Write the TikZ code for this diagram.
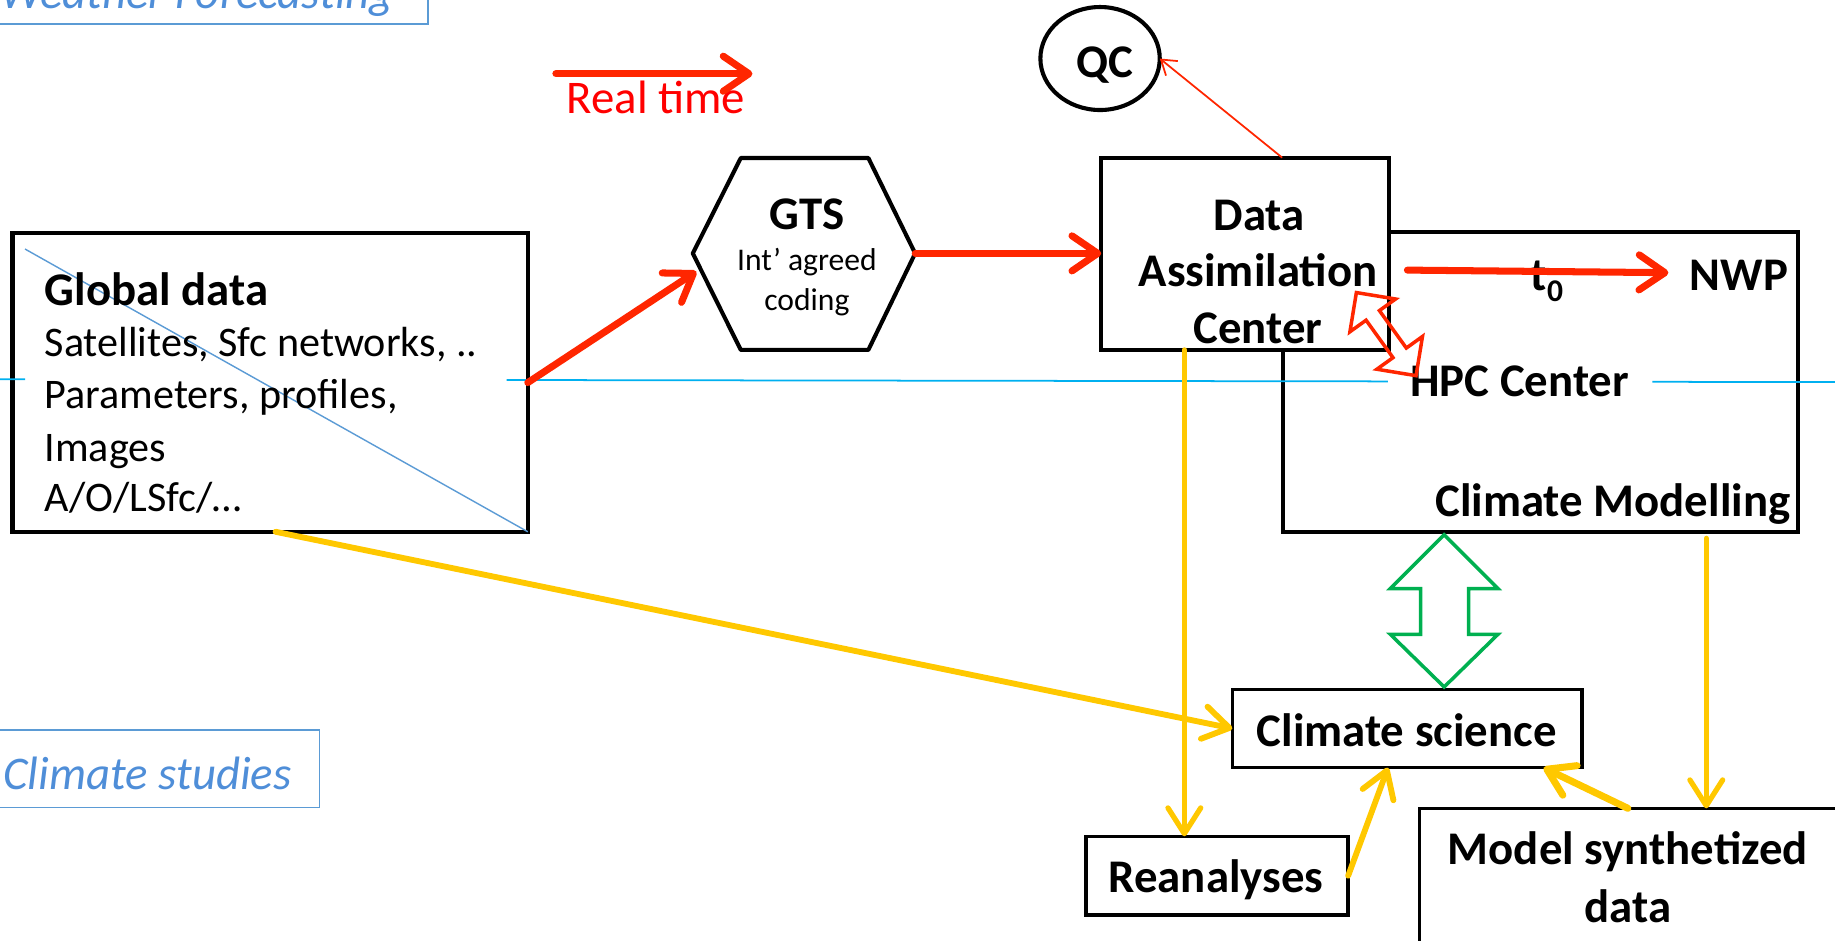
\documentclass[tikz,border=0pt]{standalone}
\usepackage{fontspec}
\setmainfont{Carlito}
\usetikzlibrary{arrows.meta,shapes.geometric}
\definecolor{rd}{HTML}{FF2600}
\definecolor{rtxt}{HTML}{FF0000}
\definecolor{yl}{HTML}{FFC800}
\definecolor{gr}{HTML}{00B050}
\definecolor{cy}{HTML}{00B0F0}
\definecolor{bl}{HTML}{5B9BD5}
\definecolor{bltxt}{HTML}{4F8ED8}
\begin{document}
\begin{tikzpicture}[x=1pt,y=-1pt,
  blk/.style={draw=black, line width=3.5pt, fill=white, inner sep=0pt, outer sep=0pt},
  big/.style={font=\fontsize{40}{48}\selectfont\bfseries, inner sep=0pt},
  body/.style={font=\fontsize{36}{44}\selectfont, inner sep=0pt, anchor=base west},
  small/.style={font=\fontsize{27}{32}\selectfont, inner sep=0pt, anchor=base},
  ital/.style={font=\fontsize{40}{48}\selectfont\itshape, text=bltxt, inner sep=0pt, anchor=base west},
  bluebox/.style={draw=bl, line width=1.5pt, inner sep=0pt, outer sep=0pt},
  redarr/.style={draw=rd, line width=6pt, line cap=round, -{Straight Barb[length=22pt,width=30pt,round]}},
  thinred/.style={draw=rd, line width=1.5pt, -{Straight Barb[length=12pt,width=16pt]}},
  yarr/.style={draw=yl, line width=5pt, line cap=round, -{Straight Barb[length=22pt,width=28pt,round]}},
  cyline/.style={draw=cy, line width=1.5pt},
  hollow/.style={line width=3pt, line join=miter}
]
\useasboundingbox (0,0) rectangle (1568,804);

% blue frames
\node[bluebox, anchor=south east, minimum width=420pt, minimum height=70pt] (wfbox) at (366,20.5) {};
\node[bluebox, anchor=north east, minimum width=300pt, minimum height=66pt] (csbox) at (273,624) {};
\node[ital] (wf) at (0,7) {Weather Forecasting};
\node[ital] (cst) at (2.8,674.5) {Climate studies};

% boxes
\node[blk, anchor=north west, minimum width=440.3pt, minimum height=255pt] (glob) at (10.7,199.4) {};
\node[blk, anchor=north west, minimum width=439.6pt, minimum height=255.8pt] (hpc) at (1096.4,198.6) {};
\node[blk, anchor=north west, minimum width=245.7pt, minimum height=164.3pt] (da) at (941,134.7) {};
\node[ellipse, draw, line width=3.5pt, fill=white, minimum width=102pt, minimum height=88pt, inner sep=0pt, outer sep=0pt] (qc) at (940,50) {};
\node[blk, line width=3pt, anchor=north west, minimum width=299pt, minimum height=67pt] (cs) at (1053,589) {};
\node[blk, line width=3pt, anchor=north west, minimum width=224pt, minimum height=67.4pt] (rea) at (928,714.6) {};
\node[blk, line width=3pt, anchor=north west, minimum width=420pt, minimum height=220pt] (msd) at (1213,690.7) {};

% GTS hexagon
\coordinate (gW) at (592,216.5);
\coordinate (gNW) at (633,135);
\coordinate (gNE) at (742,135);
\coordinate (gE) at (782,216.5);
\coordinate (gSE) at (742,299);
\coordinate (gSW) at (633,299);
\draw[line width=3.5pt, line join=round, fill=white] (gW) -- (gNW) -- (gNE) -- (gE) -- (gSE) -- (gSW) -- cycle;

% cyan line
\draw[cyline] (0,324) -- (21.4,324.05);
\draw[cyline] (433,324.7) -- (1186,325.9);
\draw[cyline] (1412,326.25) -- (1568,326.5);

% diagonal
\coordinate (diagS) at (21.4,212.8);
\draw[bl, line width=1.2pt] (diagS) -- (glob.south east);

% texts
\node[big, anchor=base west] (gd1) at (38,260.7) {Global data};
\node[body] (gd2) at (38,305) {Satellites, Sfc networks, ..};
\node[body] (gd3) at (38,349) {Parameters, profiles,};
\node[body] (gd4) at (38,394.6) {Images};
\node[body] (gd5) at (38,437) {A/O/LSfc/…};

\node[big, anchor=base] (gts) at (689.5,196.5) {GTS};
\node[small] (gts2) at (689.5,231) {Int’ agreed};
\node[small] (gts3) at (689.5,265) {coding};

\node[big, anchor=base] (da1) at (1076,196.6) {Data};
\node[big, anchor=base] (da2) at (1075,244.4) {Assimilation};
\node[big, anchor=base] (da3) at (1075,293.4) {Center};

\node[big, anchor=base] (qct) at (944,66) {QC};
\node[font=\fontsize{40}{48}\selectfont, text=rtxt, inner sep=0pt, anchor=base west] (rt) at (484,97) {Real time};

\node[big, anchor=base west] (t0) at (1308,248) {t\raisebox{-10pt}{\fontsize{27}{32}\selectfont\bfseries 0}};
\node[big, anchor=base east] (nwp) at (1528,248) {NWP};
\node[big, anchor=base west] (hpct) at (1205,338.5) {HPC Center};
\node[big, anchor=base east] (cmt) at (1530,441.6) {Climate Modelling};
\node[big, anchor=base] (cst2) at (1202,638) {Climate science};
\node[big, anchor=base] (reat) at (1039,763) {Reanalyses};
\node[big, anchor=base] (msd1) at (1391,739) {Model synthetized};
\node[big, anchor=base] (msd2) at (1391,788) {data};

% yellow arrows
\coordinate (y1s) at (235.5,454.4);
\draw[yarr] (y1s) -- (cs.west);
\coordinate (y2s) at (1012,299);
\draw[yarr, line width=4.5pt] (y2s) -- (y2s |- rea.north);
\coordinate (y3e) at (1186,656);
\draw[yarr] (rea.east) -- (y3e);
\coordinate (y4s) at (1391,690.7);
\coordinate (y4e) at (1319,656);
\draw[yarr, line width=6pt] (y4s) -- (y4e);
\coordinate (y5s) at (1458,460);
\draw[yarr, line width=4.5pt] (y5s) -- (y5s |- msd.north);

% red arrows
\coordinate (rtS) at (475,63);
\coordinate (rtE) at (643,63);
\draw[redarr] (rtS) -- (rtE);
\coordinate (gA) at (595,232);
\draw[redarr] (glob.east) -- (gA);
\draw[redarr] (gE) -- (da.west |- gE);
\coordinate (t0S) at (1202.6,230.8);
\coordinate (t0E) at (1425.6,233);
\draw[redarr] (t0S) -- (t0E);
\coordinate (daQ) at (1095.6,134.7);
\draw[thinred] (daQ) -- (qc.east);

% red hollow double arrow
\draw[rd, hollow] (1159,250) -- (1153.5,283.5) -- (1167.3,273.6) -- (1190.3,305.6) -- (1176.5,315.5) -- (1210,321) -- (1215.5,287.5) -- (1201.7,297.4) -- (1178.7,265.4) -- (1192.5,255.5) -- cycle;

% green hollow double arrow
\draw[gr, hollow] (1234,457) -- (1280,503) -- (1255,503) -- (1255,542) -- (1280,542) -- (1234,587) -- (1188,542) -- (1214,542) -- (1214,503) -- (1188,503) -- cycle;
\end{tikzpicture}
\end{document}
